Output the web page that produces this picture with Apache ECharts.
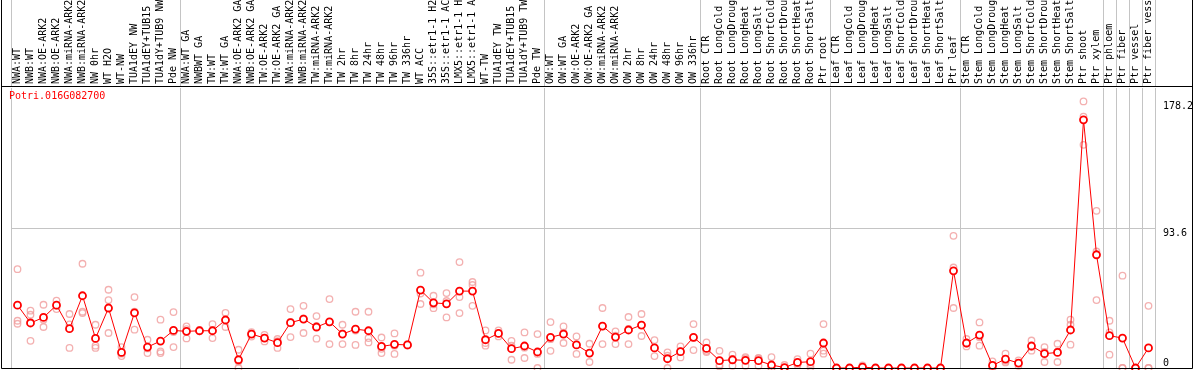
<!DOCTYPE html>
<html><head><meta charset="utf-8">
<script src="https://cdn.jsdelivr.net/npm/echarts@6/dist/echarts.min.js"></script>
<style>html,body{margin:0;padding:0;background:#fff}#c{width:1194px;height:370px}</style>
</head><body><div id="c"></div>
<script>
const geneName = 'Potri.016G082700';
const categories = [
 'NWA:WT','NWB:WT','NWA:OE-ARK2','NWB:OE-ARK2','NWA:miRNA-ARK2','NWB:miRNA-ARK2','NW 0hr','WT H2O','WT-NW','TUA1dEY NW','TUA1dEY+TUB15 NW','TUA1dY+TUB9 NW','Pde NW',
 'NWA:WT GA','NWBWT GA','TW:WT','TW:WT GA','NWA:OE-ARK2 GA','NWB:OE-ARK2 GA','TW:OE-ARK2','TW:OE-ARK2 GA','NWA:miRNA-ARK2','NWB:miRNA-ARK2','TW:miRNA-ARK2','TW:miRNA-ARK2',
 'TW 2hr','TW 8hr','TW 24hr','TW 48hr','TW 96hr','TW 336hr','WT ACC','35S::etr1-1 H2O','35S::etr1-1 ACC','LMX5::etr1-1 H2O','LMX5::etr1-1 ACC','WT-TW','TUA1dEY TW','TUA1dEY+TUB15 TW','TUA1dY+TUB9 TW','Pde TW',
 'OW:WT','OW:WT GA','OW:OE-ARK2','OW:OE-ARK2 GA','OW:miRNA-ARK2','OW:miRNA-ARK2','OW 2hr','OW 8hr','OW 24hr','OW 48hr','OW 96hr','OW 336hr',
 'Root CTR','Root LongCold','Root LongDrought','Root LongHeat','Root LongSalt','Root ShortCold','Root ShortDrought','Root ShortHeat','Root ShortSalt','Ptr root',
 'Leaf CTR','Leaf LongCold','Leaf LongDrought','Leaf LongHeat','Leaf LongSalt','Leaf ShortCold','Leaf ShortDrought','Leaf ShortHeat','Leaf ShortSalt','Ptr leaf',
 'Stem CTR','Stem LongCold','Stem LongDrought','Stem LongHeat','Stem LongSalt','Stem ShortCold','Stem ShortDrought','Stem ShortHeat','Stem ShortSalt','Ptr shoot',
 'Ptr xylem','Ptr phloem','Ptr fiber','Ptr vessel','Ptr fiber vessel'
];
const meanValues = [
 42.0,30.1,33.8,42.0,26.3,48.3,19.8,40.1,10.4,36.9,14.0,18.0,25.1,
 24.5,24.9,24.9,32.1,5.5,22.7,20.0,16.9,30.3,32.7,27.4,30.9,
 22.7,26.0,24.9,14.4,15.8,15.4,52.1,43.6,42.9,51.4,51.4,18.9,23.1,12.9,14.7,10.7,
 20.5,22.7,15.4,10.0,28.0,20.7,25.4,28.7,13.4,6.2,10.9,20.5,
 13.1,4.9,5.5,5.1,4.9,2.0,0.3,3.7,4.2,16.7,
 0,0,0.6,0,0,0,0,0,0,65.0,
 16.7,22.0,1.7,6.0,3.3,14.7,9.6,10.4,25.4,165.9,
 75.7,21.6,20.0,0,13.4
];
const rep1 = [
 66.1,38.3,42.3,45.0,36.1,69.7,28.9,52.3,14.0,47.4,18.9,32.3,37.4,
 27.8,25.5,29.4,36.9,12.2,24.0,22.2,19.4,39.4,41.6,34.7,46.1,
 28.9,37.6,37.6,20.4,23.1,16.0,63.7,48.3,50.1,70.8,57.5,25.1,25.1,18.2,23.8,22.7,
 30.7,27.8,21.1,16.2,40.1,24.5,34.1,36.1,18.7,10.4,14.4,29.4,
 17.1,11.5,8.9,7.3,6.7,7.3,2.0,6.0,9.6,29.4,
 0,0,1.7,0,0,0,0,0,0,88.4,
 19.4,30.5,4.4,9.6,5.1,18.4,14.0,16.2,32.3,178.2,
 105.1,31.6,61.7,0,41.6
];
const rep2 = [
 31.6,35.6,32.3,39.4,29.1,37.6,14.9,45.4,9.6,25.6,10.0,11.1,14.0,
 19.8,24.5,20.0,27.4,0,21.0,17.8,13.4,20.7,23.4,19.6,16.0,
 16.0,15.4,20.0,10.0,9.4,15.0,42.8,40.0,33.8,47.4,55.5,14.9,21.1,5.5,6.7,0,
 11.5,16.7,9.4,4.0,16.0,16.0,16.0,21.4,8.0,0,7.1,12.0,
 11.5,1.0,1.5,1.5,1.5,0,0,2.0,0.5,11.6,
 0,0,0,0,0,0,0,0,0,67.2,
 14.4,14.9,0,3.7,1.5,11.6,4.0,4.0,28.9,168.0,
 77.9,23.8,0,0,0
];
const rep3 = [
 29.6,18.2,27.4,41.6,13.4,36.7,13.4,23.4,8.0,37.7,13.1,10.0,24.0,
 26.0,24.7,25.3,32.0,4.3,23.0,20.0,18.0,30.8,33.1,27.9,30.6,
 23.2,25.0,17.1,12.8,14.9,15.2,49.8,42.5,44.8,36.7,41.6,16.7,23.1,15.0,13.6,9.4,
 19.3,23.6,15.7,9.8,27.9,21.6,26.1,28.6,13.5,8.2,11.2,20.1,
 10.7,2.2,6.1,6.5,6.5,0,0,3.1,2.5,9.6,
 0,0,0,0,0,0,0,0,0,40.1,
 16.3,20.6,0.7,4.7,3.3,14.1,10.8,11.0,15.6,149.2,
 45.4,8.9,0,0,0
];
const groupStarts = [0,13,41,53,63,73,84,85,86,87];
const yMax = 187.2;
const yStep = 93.6;
const yLabelValues = [93.6,178.2];
const yZeroLabel = [0];

const chart = echarts.init(document.getElementById('c'), null, {renderer:'canvas'});
const mono = 'DejaVu Sans Mono';
const gray = '#c4c4c4';
const sepFn = function (idx) { return groupStarts.indexOf(idx) >= 0; };
const repStyle = {color:'rgba(0,0,0,0)', borderColor:'#f09c9c', borderWidth:1.3};
const repSeries = [rep1, rep2, rep3].map(function (r) {
  return {type:'scatter', xAxisIndex:1, yAxisIndex:1, data:r, symbol:'circle', symbolSize:6.5,
    itemStyle:repStyle, z:2, clip:false, silent:true};
});
chart.setOption({
  animation:false,
  backgroundColor:'#fff',
  title:{text:geneName, left:9, top:91, padding:0,
    textStyle:{color:'#ff0000', fontFamily:mono, fontSize:10, fontWeight:'normal'}},
  grid:[
    {left:11, right:39, top:0, height:86, outerBoundsMode:'none', containLabel:false},
    {left:11, right:39, top:88, height:280, outerBoundsMode:'none', containLabel:false}
  ],
  xAxis:[
    {gridIndex:0, type:'category', data:categories, boundaryGap:true,
      axisLine:{show:false}, axisTick:{show:false}, axisLabel:{show:false},
      splitLine:{show:true, interval:sepFn, lineStyle:{color:gray, width:1}}},
    {gridIndex:1, type:'category', data:categories, boundaryGap:true, position:'top',
      axisLine:{show:false}, axisTick:{show:false},
      axisLabel:{interval:0, rotate:90, margin:4, color:'#000', fontFamily:mono, fontSize:10},
      splitLine:{show:true, interval:sepFn, lineStyle:{color:gray, width:1}}}
  ],
  yAxis:[
    {gridIndex:0, type:'value', min:0, max:1, show:false},
    {gridIndex:1, type:'value', position:'right', min:0, max:yMax, interval:yStep,
      axisLine:{show:false}, axisTick:{show:false},
      splitLine:{show:true, showMinLine:false, showMaxLine:false, lineStyle:{color:gray, width:1}},
      axisLabel:{customValues:yLabelValues, verticalAlign:'top', align:'left', margin:8, color:'#000',
        fontFamily:mono, fontSize:10, formatter:function(v){return String(v);}}},
    {gridIndex:1, type:'value', position:'right', min:0, max:yMax, interval:yStep,
      axisLine:{show:false}, axisTick:{show:false}, splitLine:{show:false},
      axisLabel:{customValues:yZeroLabel, verticalAlign:'bottom', align:'left', margin:8, color:'#000',
        fontFamily:mono, fontSize:10, formatter:function(v){return String(v);}}}
  ],
  graphic:[
    {type:'rect', z:100, silent:true, shape:{x:1.5, y:-1, width:1191, height:369.5},
      style:{fill:null, stroke:'#000', lineWidth:1}},
    {type:'line', z:100, silent:true, shape:{x1:1, y1:86.5, x2:1193, y2:86.5},
      style:{stroke:'#000', lineWidth:1}}
  ],
  series: repSeries.concat([{
    type:'line', xAxisIndex:1, yAxisIndex:1, data:meanValues, symbol:'circle', symbolSize:7,
    showAllSymbol:true, clip:false, z:3,
    itemStyle:{color:'#fff', borderColor:'#ff0000', borderWidth:1.8},
    lineStyle:{color:'#ff0000', width:1}
  }])
});
</script>
</body></html>
